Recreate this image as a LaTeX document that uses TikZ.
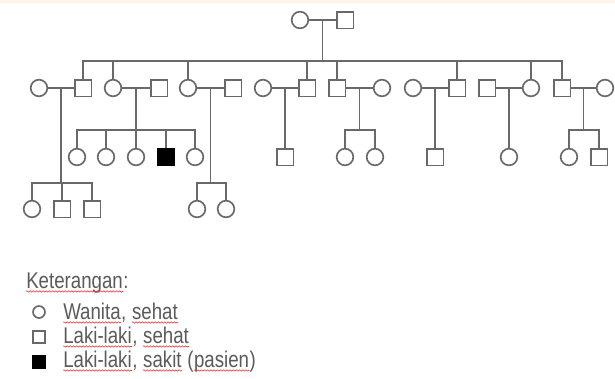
\documentclass[tikz,border=0pt]{standalone}
\usepackage{fontspec}
\setmainfont{Liberation Sans}
\usetikzlibrary{calc,decorations.pathmorphing}
\definecolor{ln}{RGB}{105,105,105}
\definecolor{tx}{RGB}{90,90,90}
\definecolor{cream}{RGB}{250,246,234}
\newcommand{\stretchtxt}[1]{\scalebox{1}[1.22]{#1}}
\begin{document}
\begin{tikzpicture}[x=0.75pt,y=-0.75pt,
  fem/.style={circle,draw=ln,line width=1.25pt,minimum size=12.5pt,inner sep=0pt},
  mal/.style={rectangle,draw=ln,line width=1.25pt,minimum size=12.5pt,inner sep=0pt},
  sick/.style={mal,fill=black,draw=black},
  lfem/.style={fem,minimum size=9pt},
  lmal/.style={mal,minimum size=9pt},
  lsick/.style={sick,minimum size=9pt},
  rel/.style={draw=ln,line width=1.25pt},
  lt/.style={font=\fontsize{14}{17}\selectfont,text=tx,inner sep=0pt,anchor=base west},
  wave/.style={draw=red!80!white,line width=0.45pt,decorate,decoration={snake,amplitude=0.5pt,segment length=2.4pt}}
]
\useasboundingbox (0,0) rectangle (615,379);
\fill[cream] (0,0) rectangle (615,3);

% generation 1
\node[fem] (F0) at (300,20) {};
\node[mal] (M0) at (345,20) {};
\draw[rel] (F0) -- (M0);
\coordinate (m0) at ($(F0)!0.5!(M0)$);

% generation 2
\node[fem] (F1) at (39,88) {};
\node[mal] (M1) at (83,88) {};
\node[fem] (F2) at (113,88) {};
\node[mal] (M2) at (159,88) {};
\node[fem] (F3) at (188,88) {};
\node[mal] (M3) at (233,88) {};
\node[fem] (F4) at (263,88) {};
\node[mal] (M4) at (307,88) {};
\node[mal] (M5) at (337,88) {};
\node[fem] (F5) at (382,88) {};
\node[fem] (F6) at (413,88) {};
\node[mal] (M6) at (457,88) {};
\node[mal] (M7) at (487,88) {};
\node[fem] (F7) at (531,88) {};
\node[mal] (M8) at (562,88) {};
\node[fem] (F8) at (605,88) {};

\coordinate (g1) at (0,61);
\draw[rel] (m0) -- (m0 |- g1);
\draw[rel] (M1.north) |- (g1 -| M8.north) -- (M8.north);
\foreach \n in {F2,F3,M4,M5,M6,F7} \draw[rel] (\n.north) -- (\n.north |- g1);

\draw[rel] (F1) -- (M1);
\draw[rel] (F2) -- (M2);
\draw[rel] (F3) -- (M3);
\draw[rel] (F4) -- (M4);
\draw[rel] (M5) -- (F5);
\draw[rel] (F6) -- (M6);
\draw[rel] (M7) -- (F7);
\draw[rel] (M8) -- (F8);
\coordinate (m1) at ($(F1)!0.5!(M1)$);
\coordinate (m2) at ($(F2)!0.5!(M2)$);
\coordinate (m3) at ($(F3)!0.5!(M3)$);
\coordinate (m4) at ($(F4)!0.5!(M4)$);
\coordinate (m5) at ($(M5)!0.5!(F5)$);
\coordinate (m6) at ($(F6)!0.5!(M6)$);
\coordinate (m7) at ($(M7)!0.5!(F7)$);
\coordinate (m8) at ($(M8)!0.5!(F8)$);

% generation 3
\coordinate (g2) at (0,130);
\node[fem] (a1) at (77,157) {};
\node[fem] (a2) at (106,157) {};
\node[fem] (a3) at (136,157) {};
\node[sick] (a4) at (166,157) {};
\node[fem] (a5) at (195,157) {};
\draw[rel] (m2) -- (m2 |- g2);
\draw[rel] (a1.north) |- (g2 -| a5.north) -- (a5.north);
\foreach \n in {a2,a3,a4} \draw[rel] (\n.north) -- (\n.north |- g2);

\node[mal] (b1) at (285,157) {};
\draw[rel] (m4) -- (m4 |- b1.north);

\node[fem] (c1) at (345,157) {};
\node[fem] (c2) at (375,157) {};
\draw[rel] (m5) -- (m5 |- g2);
\draw[rel] (c1.north) |- (g2 -| c2.north) -- (c2.north);

\node[mal] (d1) at (435,157) {};
\draw[rel] (m6) -- (m6 |- d1.north);

\node[fem] (e1) at (509,157) {};
\draw[rel] (m7) -- (m7 |- e1.north);

\node[fem] (f1) at (569,157) {};
\node[mal] (f2) at (599,157) {};
\draw[rel] (m8) -- (m8 |- g2);
\draw[rel] (f1.north) |- (g2 -| f2.north) -- (f2.north);

% generation 4
\coordinate (g3) at (0,183);
\node[fem] (h1) at (32,209) {};
\node[mal] (h2) at (62,209) {};
\node[mal] (h3) at (92,209) {};
\draw[rel] (m1) -- (m1 |- g3);
\draw[rel] (h1.north) |- (g3 -| h3.north) -- (h3.north);
\draw[rel] (h2.north) -- (h2.north |- g3);

\node[fem] (k1) at (197,209) {};
\node[fem] (k2) at (226,209) {};
\draw[rel] (m3) -- (m3 |- g3);
\draw[rel] (k1.north) |- (g3 -| k2.north) -- (k2.north);

% legend
\node[lt] (la) at (26,288) {\stretchtxt{Keterangan}};
\node[lt] (lb) at (la.base east) {\stretchtxt{:}};

\node[lfem] (s1) at (39,312) {};
\node[lmal] (s2) at (39,337) {};
\node[lsick] (s3) at (39,362) {};

\node[lt] (t1a) at (63,319) {\stretchtxt{Wanita}};
\node[lt] (t1b) at (t1a.base east) {\stretchtxt{,}\kern0.28em};
\node[lt] (t1c) at (t1b.base east) {\stretchtxt{sehat}};

\node[lt] (t2a) at (63,343) {\stretchtxt{Laki-laki}};
\node[lt] (t2b) at (t2a.base east) {\stretchtxt{,}\kern0.28em};
\node[lt] (t2c) at (t2b.base east) {\stretchtxt{sehat}};

\node[lt] (t3a) at (63,367) {\stretchtxt{Laki-laki}};
\node[lt] (t3b) at (t3a.base east) {\stretchtxt{,}\kern0.28em};
\node[lt] (t3c) at (t3b.base east) {\stretchtxt{sakit}};
\node[lt] (t3d) at (t3c.base east) {\kern0.28em\stretchtxt{(}};
\node[lt] (t3e) at (t3d.base east) {\stretchtxt{pasien}};
\node[lt] (t3f) at (t3e.base east) {\stretchtxt{)}};

\foreach \w in {la,t1a,t1c,t2a,t2c,t3a,t3c,t3e}
  \draw[wave] ([yshift=-2.6pt]\w.base west) -- ([yshift=-2.6pt]\w.base east);
\end{tikzpicture}
\end{document}
